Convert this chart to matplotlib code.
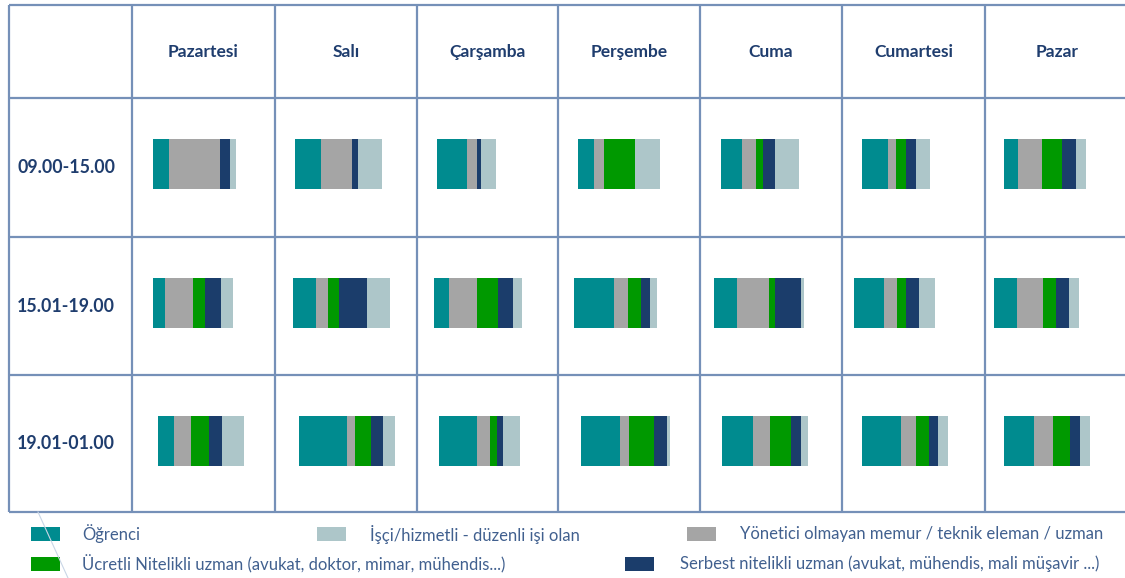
import matplotlib.pyplot as plt
import numpy as np

# Günler ve saat dilimleri
days = ["Pazartesi", "Salı", "Çarşamba", "Perşembe", "Cuma", "Cumartesi", "Pazar"]
slots = ["09.00-15.00", "15.01-19.00", "19.01-01.00"]

# Her hücre için meslek grubu payları (satır: saat dilimi, sütun: gün)
ogrenci = np.array([
    [16.0, 25.7, 30.0, 15.8, 21.3, 25.6, 14.6],
    [11.7, 23.3, 15.3, 40.3, 23.1, 30.1, 22.7],
    [15.7, 48.0, 38.4, 38.5, 31.1, 38.8, 30.0],
])
yonetici_olmayan = np.array([
    [50.7, 31.0, 10.0, 9.9, 13.9, 8.4, 23.5],
    [28.3, 11.3, 27.3, 13.9, 32.2, 12.4, 26.7],
    [17.0, 7.7, 13.0, 9.5, 17.2, 15.4, 19.4],
])
ucretli_nitelikli = np.array([
    [0.0, 0.0, 0.0, 31.1, 7.3, 10.2, 20.1],
    [11.7, 11.3, 21.0, 12.5, 5.9, 9.9, 12.8],
    [18.6, 16.7, 7.0, 25.3, 20.2, 12.5, 17.2],
])
serbest_nitelikli = np.array([
    [10.0, 6.0, 4.0, 0.0, 11.3, 9.9, 14.3],
    [16.7, 28.0, 15.7, 9.5, 25.3, 12.5, 12.5],
    [12.4, 11.6, 5.6, 12.8, 10.6, 9.8, 9.9],
])
isci = np.array([
    [6.0, 24.0, 15.3, 25.3, 24.1, 13.9, 9.9],
    [11.7, 22.7, 8.3, 7.3, 3.3, 15.7, 10.2],
    [22.6, 12.4, 16.7, 2.9, 7.3, 9.9, 9.6],
])

labels = {
    "ogrenci": "Öğrenci",
    "isci": "İşçi/hizmetli - düzenli işi olan",
    "yonetici": "Yönetici olmayan memur / teknik eleman / uzman",
    "ucretli": "Ücretli Nitelikli uzman (avukat, doktor, mimar, mühendis...)",
    "serbest": "Serbest nitelikli uzman (avukat, mühendis, mali müşavir ...)",
}
colors = {
    "ogrenci": "#008b8f",
    "yonetici": "#a5a5a5",
    "ucretli": "#009900",
    "serbest": "#1b3d6b",
    "isci": "#adc6c9",
}
# yığın sırası soldan sağa
stack = [
    ("ogrenci", ogrenci),
    ("yonetici", yonetici_olmayan),
    ("ucretli", ucretli_nitelikli),
    ("serbest", serbest_nitelikli),
    ("isci", isci),
]

# tablo yerleşimi (piksel)
W, H = 1125, 578
col_x = [9, 132, 275, 417, 558, 700, 842, 985, 1130]
row_y = [5, 98, 237, 375, 512]
bar_h = 50
bar_start = [
    [21, 20, 20, 20, 21, 20, 18.5],
    [21, 18, 17, 16, 14, 12, 9],
    [26, 24, 22, 23, 22, 20, 18.5],
]
bar_center = [164, 302.5, 441]

line_col = "#7590b8"
text_col = "#1f3d6e"

fig = plt.figure(figsize=(W / 100, H / 100), dpi=100)
ax = fig.add_axes([0, 0, 1, 1])
ax.set_xlim(0, W)
ax.set_ylim(H, 0)
ax.axis("off")

# tablo çizgileri
for x in col_x[:-1]:
    ax.plot([x, x], [row_y[0], row_y[-1]], color=line_col, lw=1.6, solid_capstyle="butt")
for y in row_y:
    ax.plot([col_x[0], W], [y, y], color=line_col, lw=1.6, solid_capstyle="butt")

# başlıklar
for j, d in enumerate(days):
    cx = (col_x[j + 1] + col_x[j + 2]) / 2
    ax.text(cx, 52, d, ha="center", va="center", fontsize=12.5,
            fontweight="bold", color=text_col, family="Lato")
for i, s in enumerate(slots):
    cy = (row_y[i + 1] + row_y[i + 2]) / 2
    ax.text(17, cy, s, ha="left", va="center", fontsize=12.8,
            fontweight="bold", color=text_col, family="Lato")

# yığılmış çubuklar
for i in range(len(slots)):
    for j in range(len(days)):
        left = col_x[j + 1] + bar_start[i][j]
        for key, arr in stack:
            w = arr[i, j]
            if w <= 0:
                continue
            ax.barh(bar_center[i], w, height=bar_h, left=left,
                    color=colors[key], edgecolor="none")
            left += w

# açıklama
legend_items = [
    ("ogrenci", 31, 534, 82),
    ("isci", 317, 534, 370),
    ("yonetici", 687, 534, 740),
    ("ucretli", 31, 564, 82),
    ("serbest", 625, 564, 680),
]
for key, sx, sy, tx in legend_items:
    ax.add_patch(plt.Rectangle((sx, sy - 7), 29, 14, color=colors[key], lw=0))
    ax.text(tx, sy, labels[key], ha="left", va="center", fontsize=12,
            color="#41608f", family="Lato")

# sol alttaki ince dekor çizgisi
ax.plot([38, 68], [512, 578], color="#c9d6e6", lw=0.8)

fig.savefig("out.png", dpi=100)
